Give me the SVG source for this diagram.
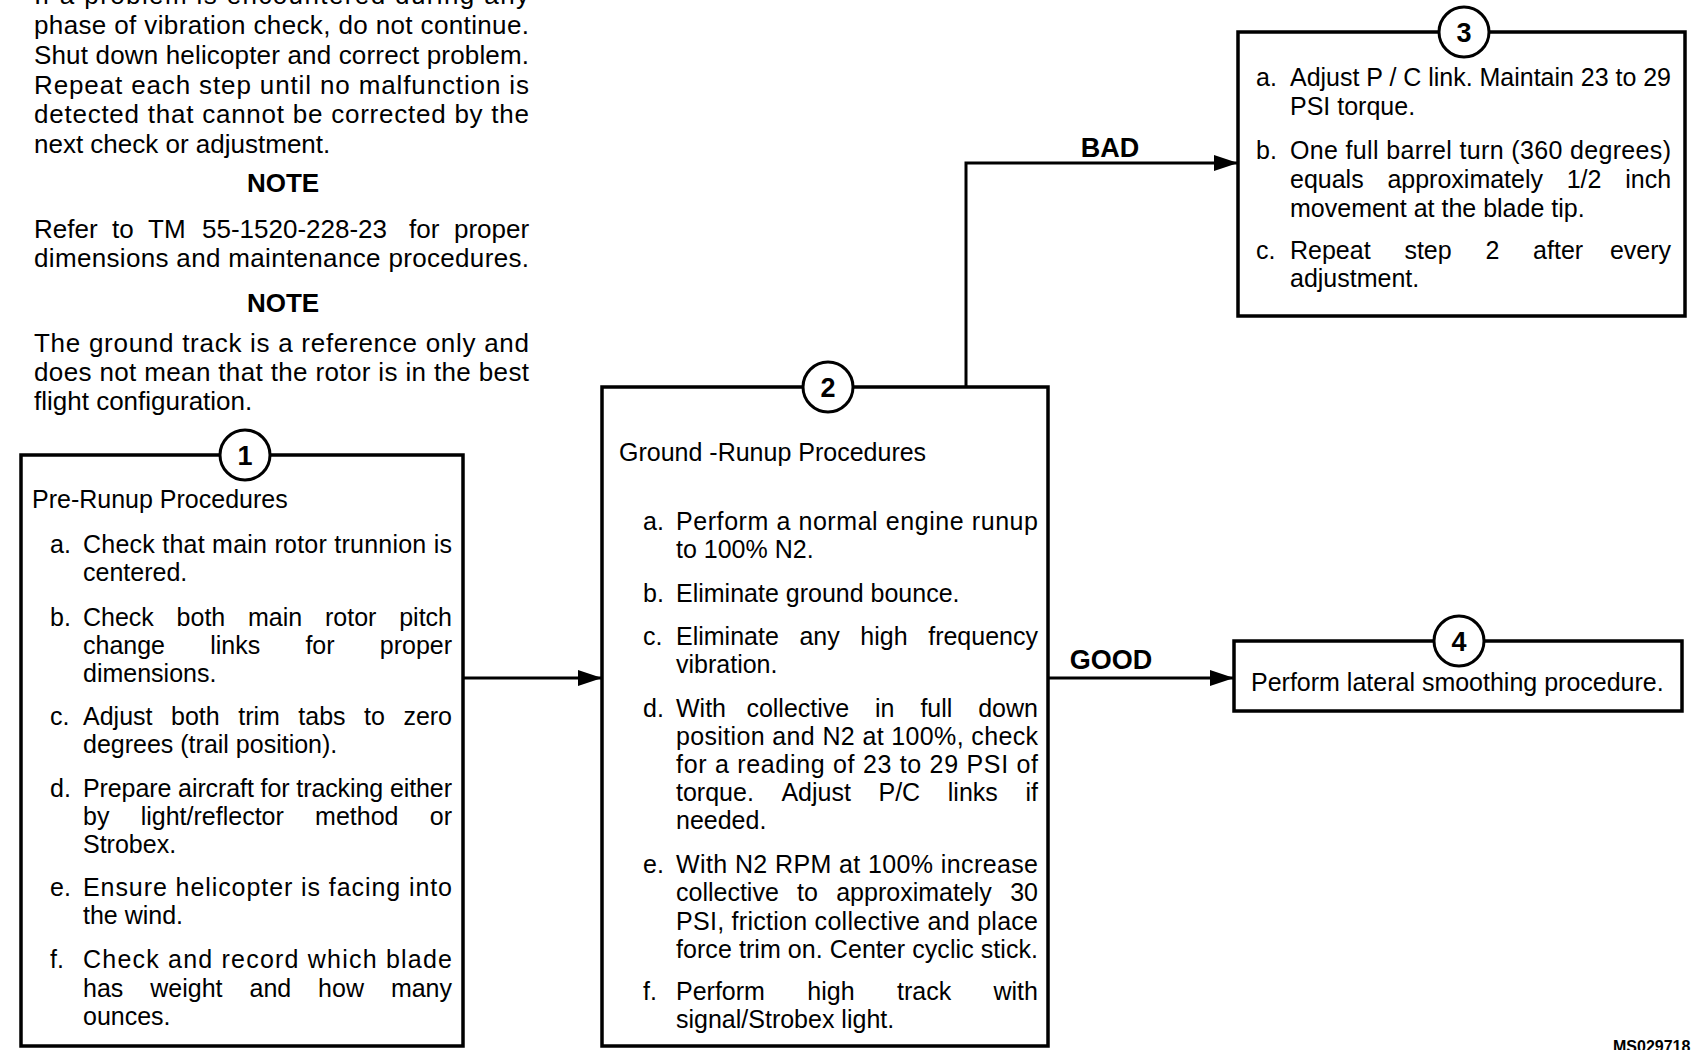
<svg xmlns="http://www.w3.org/2000/svg" width="1695" height="1050" viewBox="0 0 1695 1050">
<style>
text { font-family: "Liberation Sans", Arial, sans-serif; fill: #000; }
.tt { font-size: 26px; }
.t { font-size: 25px; }
.b { font-weight: bold; }
.box { fill: #fff; stroke: #000; stroke-width: 3.5; }
.num { fill: #fff; stroke: #000; stroke-width: 3; }
.nt { font-size: 27px; font-weight: bold; text-anchor: middle; }
.conn { fill: none; stroke: #000; stroke-width: 3; }
.lbl { font-size: 27px; font-weight: bold; text-anchor: middle; }
</style>
<defs>
<marker id="arr" markerUnits="userSpaceOnUse" markerWidth="26" markerHeight="18" refX="24" refY="9" orient="auto">
<path d="M0,1 L24,9 L0,17 Z" fill="#000"/>
</marker>
</defs>
<rect width="1695" height="1050" fill="#fff"/>

<g id="notes">
<text class="tt" x="34" y="4" textLength="495" lengthAdjust="spacing">If a problem is encountered during any</text>
<text class="tt" x="34" y="34" textLength="495" lengthAdjust="spacing">phase of vibration check, do not continue.</text>
<text class="tt" x="34" y="64" textLength="495" lengthAdjust="spacing">Shut down helicopter and correct problem.</text>
<text class="tt" x="34" y="94" textLength="495" lengthAdjust="spacing">Repeat each step until no malfunction is</text>
<text class="tt" x="34" y="123" textLength="495" lengthAdjust="spacing">detected that cannot be corrected by the</text>
<text class="tt" x="34" y="153">next check or adjustment.</text>
<text class="tt b" x="283" y="192" text-anchor="middle">NOTE</text>
<text class="tt" y="238"><tspan x="34">Refer</tspan><tspan x="112">to</tspan><tspan x="148">TM</tspan><tspan x="202">55-1520-228-23</tspan><tspan x="409">for</tspan><tspan x="454">proper</tspan></text>
<text class="tt" x="34" y="267" textLength="495" lengthAdjust="spacing">dimensions and maintenance procedures.</text>
<text class="tt b" x="283" y="312" text-anchor="middle">NOTE</text>
<text class="tt" x="34" y="352" textLength="495" lengthAdjust="spacing">The ground track is a reference only and</text>
<text class="tt" x="34" y="381" textLength="495" lengthAdjust="spacing">does not mean that the rotor is in the best</text>
<text class="tt" x="34" y="410">flight configuration.</text>
</g>

<g id="connectors">
<path class="conn" d="M463,678 H602" marker-end="url(#arr)"/>
<path class="conn" d="M966,387 V163 H1238" marker-end="url(#arr)"/>
<path class="conn" d="M1048,678 H1234" marker-end="url(#arr)"/>
<text class="lbl" x="1110" y="157">BAD</text>
<text class="lbl" x="1111" y="669">GOOD</text>
</g>

<g id="node1">
<rect class="box" x="21" y="455" width="442" height="591"/>
<circle class="num" cx="245" cy="455" r="25"/>
<text class="nt" x="245" y="465">1</text>
<text class="t" x="32" y="508">Pre-Runup Procedures</text>
<text class="t" x="50" y="553">a.</text>
<text class="t" x="83" y="553" textLength="369" lengthAdjust="spacing">Check that main rotor trunnion is</text>
<text class="t" x="83" y="581">centered.</text>
<text class="t" x="50" y="626">b.</text>
<text class="t" y="626"><tspan x="83">Check</tspan><tspan x="176.6">both</tspan><tspan x="248">main</tspan><tspan x="325">rotor</tspan><tspan x="399.2">pitch</tspan></text>
<text class="t" y="654"><tspan x="83">change</tspan><tspan x="210.2">links</tspan><tspan x="305.4">for</tspan><tspan x="379.8">proper</tspan></text>
<text class="t" x="83" y="682">dimensions.</text>
<text class="t" x="50" y="725">c.</text>
<text class="t" y="725"><tspan x="83">Adjust</tspan><tspan x="171">both</tspan><tspan x="238.2">trim</tspan><tspan x="298.3">tabs</tspan><tspan x="364.1">to</tspan><tspan x="403.4">zero</tspan></text>
<text class="t" x="83" y="753">degrees (trail position).</text>
<text class="t" x="50" y="797">d.</text>
<text class="t" x="83" y="797" textLength="369" lengthAdjust="spacing">Prepare aircraft for tracking either</text>
<text class="t" y="825"><tspan x="83">by</tspan><tspan x="140.7">light/reflector</tspan><tspan x="315.1">method</tspan><tspan x="429.8">or</tspan></text>
<text class="t" x="83" y="853">Strobex.</text>
<text class="t" x="50" y="896">e.</text>
<text class="t" x="83" y="896" textLength="369" lengthAdjust="spacing">Ensure helicopter is facing into</text>
<text class="t" x="83" y="924">the wind.</text>
<text class="t" x="50" y="968">f.</text>
<text class="t" x="83" y="968" textLength="369" lengthAdjust="spacing">Check and record which blade</text>
<text class="t" y="997"><tspan x="83">has</tspan><tspan x="150.3">weight</tspan><tspan x="249.5">and</tspan><tspan x="318.1">how</tspan><tspan x="390.9">many</tspan></text>
<text class="t" x="83" y="1025">ounces.</text>
</g>

<g id="node2">
<rect class="box" x="602" y="387" width="446" height="659"/>
<circle class="num" cx="828" cy="387" r="25"/>
<text class="nt" x="828" y="397">2</text>
<text class="t" x="619" y="461">Ground -Runup Procedures</text>
<text class="t" x="643" y="530">a.</text>
<text class="t" x="676" y="530" textLength="362" lengthAdjust="spacing">Perform a normal engine runup</text>
<text class="t" x="676" y="558">to 100% N2.</text>
<text class="t" x="643" y="602">b.</text>
<text class="t" x="676" y="602">Eliminate ground bounce.</text>
<text class="t" x="643" y="645">c.</text>
<text class="t" y="645"><tspan x="676">Eliminate</tspan><tspan x="799.4">any</tspan><tspan x="860.3">high</tspan><tspan x="928.2">frequency</tspan></text>
<text class="t" x="676" y="673">vibration.</text>
<text class="t" x="643" y="717">d.</text>
<text class="t" y="717"><tspan x="676">With</tspan><tspan x="746.4">collective</tspan><tspan x="875">in</tspan><tspan x="920.4">full</tspan><tspan x="978.2">down</tspan></text>
<text class="t" x="676" y="745" textLength="362" lengthAdjust="spacing">position and N2 at 100%, check</text>
<text class="t" x="676" y="773" textLength="362" lengthAdjust="spacing">for a reading of 23 to 29 PSI of</text>
<text class="t" y="801"><tspan x="676">torque.</tspan><tspan x="781.4">Adjust</tspan><tspan x="878.5">P/C</tspan><tspan x="947.8">links</tspan><tspan x="1025.4">if</tspan></text>
<text class="t" x="676" y="829">needed.</text>
<text class="t" x="643" y="873">e.</text>
<text class="t" x="676" y="873" textLength="362" lengthAdjust="spacing">With N2 RPM at 100% increase</text>
<text class="t" y="901"><tspan x="676">collective</tspan><tspan x="797">to</tspan><tspan x="836.2">approximately</tspan><tspan x="1010.2">30</tspan></text>
<text class="t" x="676" y="930" textLength="362" lengthAdjust="spacing">PSI, friction collective and place</text>
<text class="t" x="676" y="958" textLength="362" lengthAdjust="spacing">force trim on. Center cyclic stick.</text>
<text class="t" x="643" y="1000">f.</text>
<text class="t" y="1000"><tspan x="676">Perform</tspan><tspan x="807.3">high</tspan><tspan x="897">track</tspan><tspan x="993.5">with</tspan></text>
<text class="t" x="676" y="1028">signal/Strobex light.</text>
</g>

<g id="node3">
<rect class="box" x="1238" y="32" width="447" height="284"/>
<circle class="num" cx="1464" cy="32" r="25"/>
<text class="nt" x="1464" y="42">3</text>
<text class="t" x="1256" y="86">a.</text>
<text class="t" x="1290" y="86" textLength="381" lengthAdjust="spacing">Adjust P / C link. Maintain 23 to 29</text>
<text class="t" x="1290" y="115">PSI torque.</text>
<text class="t" x="1256" y="159">b.</text>
<text class="t" x="1290" y="159" textLength="381" lengthAdjust="spacing">One full barrel turn (360 degrees)</text>
<text class="t" y="188"><tspan x="1290">equals</tspan><tspan x="1387.4">approximately</tspan><tspan x="1566.7">1/2</tspan><tspan x="1625.2">inch</tspan></text>
<text class="t" x="1290" y="217">movement at the blade tip.</text>
<text class="t" x="1256" y="259">c.</text>
<text class="t" y="259"><tspan x="1290">Repeat</tspan><tspan x="1404.4">step</tspan><tspan x="1485.4">2</tspan><tspan x="1533.1">after</tspan><tspan x="1609.9">every</tspan></text>
<text class="t" x="1290" y="287">adjustment.</text>
</g>

<g id="node4">
<rect class="box" x="1234" y="641" width="448" height="70"/>
<circle class="num" cx="1459" cy="641" r="25"/>
<text class="nt" x="1459" y="651">4</text>
<text class="t" x="1251" y="691">Perform lateral smoothing procedure.</text>
</g>

<text x="1613" y="1052" font-size="16" font-weight="bold">MS029718</text>
</svg>
